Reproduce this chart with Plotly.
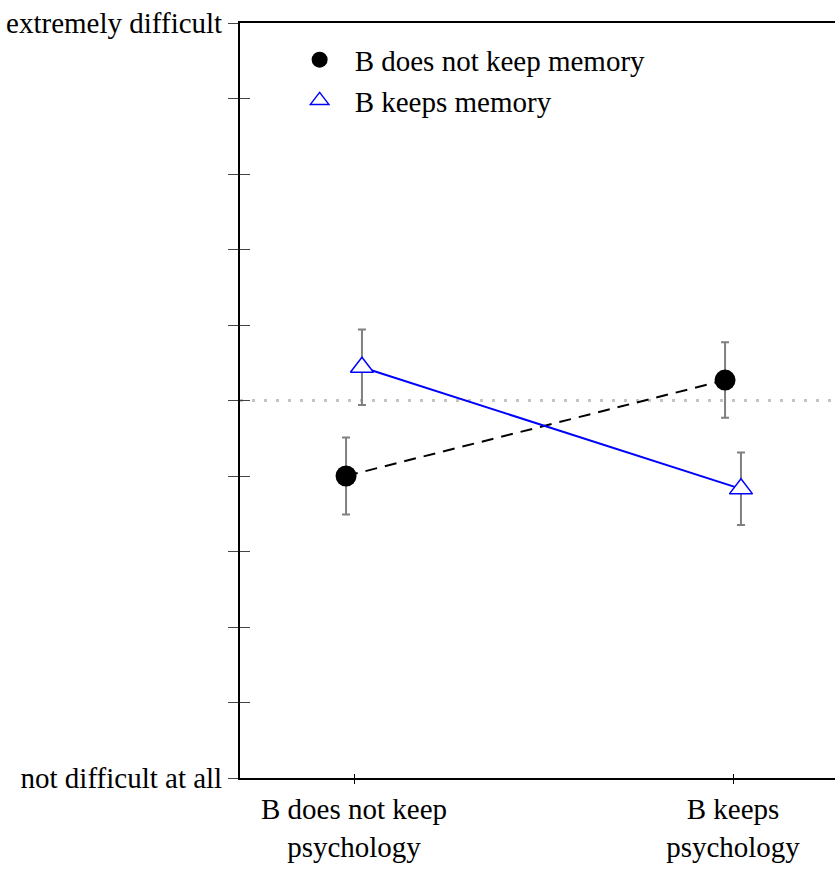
import plotly.graph_objects as go

# ---- data ----
categories = ["B does not keep<br>psychology", "B keeps<br>psychology"]
cat_pos = [0, 1]
series_names = ["B does not keep memory", "B keeps memory"]
means_no_memory = [4.0, 5.27]
err_no_memory = [0.51, 0.50]
means_memory = [5.44, 3.83]
err_memory = [0.50, 0.48]
y_ticktext = ["not difficult at all", "", "", "", "", "", "", "", "", "", "extremely difficult"]
y_tickvals = list(range(0, 11))
midpoint = 5

dodge = 0.021
FONT = "Liberation Serif"
FS = 29

x_no = [c - dodge for c in cat_pos]
x_mem = [c + dodge for c in cat_pos]


def serif(s):
    return "<span style='font-family:Liberation Serif, Times New Roman, serif'>" + s + "</span>"


fig = go.Figure()

# connecting lines
fig.add_trace(go.Scatter(x=x_no, y=means_no_memory, mode="lines",
                         line=dict(color="black", width=2, dash="12px,8px"),
                         showlegend=False, hoverinfo="skip"))
fig.add_trace(go.Scatter(x=x_mem, y=means_memory, mode="lines",
                         line=dict(color="#0000ff", width=2),
                         showlegend=False, hoverinfo="skip"))

# markers with error bars
fig.add_trace(go.Scatter(x=x_no, y=means_no_memory, mode="markers", name=serif(series_names[0]),
                         marker=dict(symbol="circle", size=21, color="black"),
                         error_y=dict(type="data", array=err_no_memory, color="#808080",
                                      thickness=2, width=4)))
fig.add_trace(go.Scatter(x=x_mem, y=means_memory, mode="markers", name=serif(series_names[1]),
                         marker=dict(symbol="triangle-up", size=20, color="white",
                                     line=dict(color="#0000ff", width=1.5)),
                         error_y=dict(type="data", array=err_memory, color="#808080",
                                      thickness=2, width=4)))

fig.add_hline(y=midpoint, line=dict(color="#c4c4c4", width=3, dash="3px,9px"), layer="below")

xr = [-0.3008, 1.2691]
fig.update_layout(
    width=835, height=869,
    margin=dict(l=240, r=0, t=23, b=91),
    paper_bgcolor="white", plot_bgcolor="white",
    font=dict(family=FONT, size=FS, color="black"),
    showlegend=True,
    legend=dict(x=0.075, y=0.985, xanchor="left", yanchor="top", bgcolor="rgba(0,0,0,0)",
                font=dict(family="Liberation Serif, Times New Roman, serif", size=FS, color="black"),
                itemwidth=60),
    xaxis=dict(range=xr, tickvals=cat_pos, ticktext=categories, showgrid=False, zeroline=False,
               showline=True, linecolor="black", linewidth=2, mirror=True,
               ticks="outside", ticklen=4, tickwidth=1, tickcolor="black",
               tickfont=dict(family=FONT, size=FS, color="black")),
    xaxis2=dict(range=xr, overlaying="x", matches="x", tickvals=cat_pos, showticklabels=False,
                showgrid=False, zeroline=False, ticks="inside", ticklen=4, tickwidth=1,
                tickcolor="black", side="bottom"),
    yaxis=dict(range=[0, 10], tickvals=y_tickvals, ticktext=y_ticktext, showgrid=False,
               zeroline=False, showline=True, linecolor="black", linewidth=2,
               ticks="outside", ticklen=10, tickwidth=1, tickcolor="#444444",
               tickfont=dict(family=FONT, size=FS, color="black")),
    yaxis2=dict(range=[0, 10], overlaying="y", tickvals=y_tickvals[1:-1], showticklabels=False,
                showgrid=False, zeroline=False, ticks="inside", ticklen=10, tickwidth=1,
                tickcolor="#444444", side="left"),
)
# invisible trace to activate overlay axes
fig.add_trace(go.Scatter(x=[cat_pos[0]], y=[midpoint], xaxis="x2", yaxis="y2", mode="markers",
                         marker=dict(opacity=0), showlegend=False, hoverinfo="skip"))

fig.write_html("out.html")
